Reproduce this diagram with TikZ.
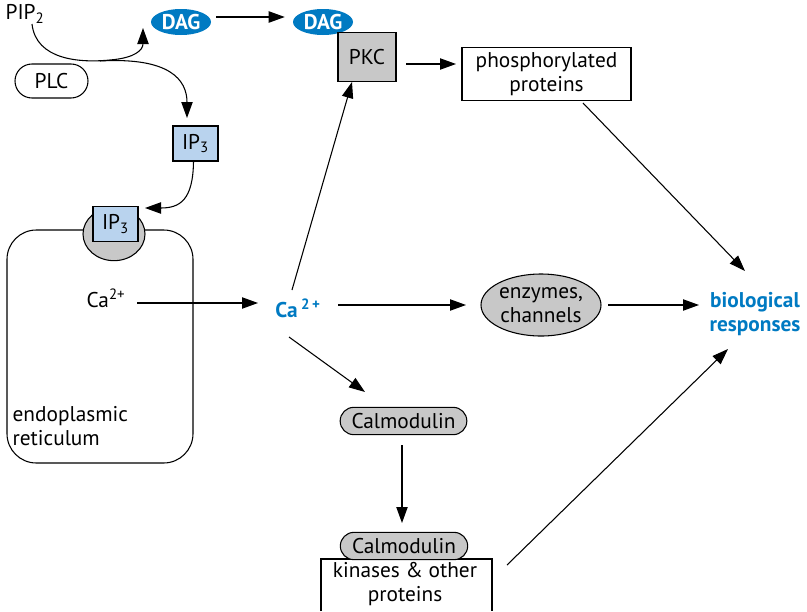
\documentclass[tikz,border=0pt]{standalone}
\usepackage{fontspec}
\setmainfont{PT Sans}
\usetikzlibrary{arrows.meta,shapes.geometric,shapes.misc}
\definecolor{cblue}{RGB}{0,122,194}
\definecolor{lblue}{RGB}{185,211,238}
\definecolor{cgrey}{RGB}{200,200,200}
\newcommand{\fs}{\fontsize{16}{17.5}\selectfont}
\begin{document}
\begin{tikzpicture}[x=0.75pt,y=-0.75pt,
  txt/.style={font=\fs, inner sep=1pt, align=center},
  arr/.style={-{Triangle[length=12pt,width=8.5pt]}, line width=0.8pt},
  dag/.style={ellipse, fill=cblue, text=white, font=\fs\bfseries, minimum width=45pt, minimum height=19.5pt, inner sep=0pt},
  ipbox/.style={draw, line width=0.8pt, fill=lblue, minimum width=33.75pt, minimum height=26.25pt, inner sep=0pt, font=\fs},
  pill/.style={draw, line width=0.8pt, rounded rectangle, inner sep=0pt, font=\fs},
  boxw/.style={draw, line width=0.8pt, fill=white, inner sep=0pt, align=center, font=\fs},
  bluet/.style={text=cblue, font=\fs\bfseries, inner sep=1pt, align=center}
]
\useasboundingbox (0,0) rectangle (807,611);
% top left
\node[txt, anchor=west] (pip) at (4,14) {PIP\textsubscript{2}};
\node[pill, minimum width=54.75pt, minimum height=25.5pt] (plc) at (51.5,81) {PLC};
\node[dag] (dag1) at (181,22) {DAG};
\node[dag] (dag2) at (323,22) {DAG};
\node[ipbox] (ip1) at (195.5,143.5) {IP\textsubscript{3}};
% ER
\node[draw, line width=0.8pt, rounded corners=22pt, minimum width=139.5pt, minimum height=174.75pt] (er) at (100,346.5) {};
\node[ellipse, draw, line width=0.8pt, fill=cgrey, minimum width=46.5pt, minimum height=40pt] (rec) at (114,234) {};
\node[ipbox] (ip2) at (115.5,224) {IP\textsubscript{3}};
\node[txt, anchor=west, align=left] (erlabel) at (11,426) {endoplasmic\\reticulum};
\node[txt] (caer) at (106,298) {Ca\textsuperscript{2+}};
% center
\node[bluet] (ca) at (298,308) {Ca\,\textsuperscript{2\,+}};
\node[draw, line width=0.8pt, fill=cgrey, minimum width=43.5pt, minimum height=37pt, inner sep=0pt, font=\fs] (pkc) at (367,57) {PKC};
\node[boxw, minimum width=126.75pt, minimum height=39.75pt] (phos) at (546.5,74) {phosphorylated\\proteins};
\node[ellipse, draw, line width=0.8pt, fill=cgrey, minimum width=90pt, minimum height=46.5pt, inner sep=0pt, align=center, font=\fs] (enz) at (541,305) {enzymes,\\channels};
\node[bluet] (bio) at (755,314) {biological\\responses};
\node[pill, fill=cgrey, minimum width=95pt, minimum height=20.5pt] (cal1) at (403.5,421) {Calmodulin};
\node[txt, inner sep=0pt] (kin) at (405,584) {kinases \& other\\proteins};
\draw[line width=0.8pt] (321,611) |- (492,559) -- (492,611);
\node[pill, fill=cgrey, minimum width=95.5pt, minimum height=20.5pt] (cal2) at (404,546) {Calmodulin};
\coordinate (kinr) at (507,565);
\coordinate (castart) at (137,303);
\coordinate (caend) at (258,303);
% connectors
\draw[arr] (dag1.east) ++(5,-5) -- ([xshift=-6pt,yshift=3.75pt]dag2.west);
\draw[line width=0.8pt] (32,24) .. controls (36,60) and (80,63) .. (110,60);
\draw[arr] (110,60) .. controls (135,58) and (143,50) .. (143,28);
\draw[arr] (100,61) .. controls (170,57) and (187,80) .. (187,118);
\draw[arr] (ip1.south) ++(-2,0) .. controls (193,200) and (180,208) .. (145,208);
\draw[arr] (castart) -- (caend);
\draw[arr] (292,290) -- (352,82);
\draw[arr] (406,64) -- (456,64);
\draw[arr] (583,103) -- (745,271);
\draw[arr] (338,305) -- (466,305);
\draw[arr] (608,305) -- (699,305);
\draw[arr] (289,337) -- (365,392);
\draw[arr] (402,445) -- (402,523);
\draw[arr] (kinr) -- (728,349);
\end{tikzpicture}
\end{document}
